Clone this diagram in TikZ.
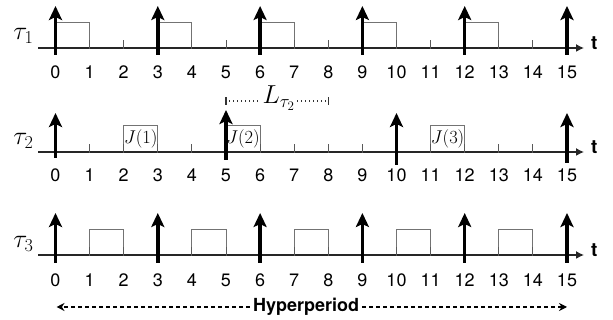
\RequirePackage{fix-cm}
\documentclass[tikz,border=0pt]{standalone}
\usepackage{fontspec}
\setsansfont{TeX Gyre Heros}
\usetikzlibrary{arrows.meta}
\tikzset{
  axisline/.style={line width=1.5pt, draw=black!85, -{Latex[length=8pt,width=8pt]}},
  release/.style={line width=3.4pt, draw=black, -{Stealth[length=14pt,width=13pt,inset=3pt]}},
  jobbox/.style={draw=black!55, line width=0.9pt},
  jobnode/.style={draw=black!55, line width=0.9pt, minimum width=34.1pt, minimum height=27pt, inner sep=0pt, font=\fontsize{18.5}{21}\selectfont},
  tickmark/.style={draw=black!65, line width=0.9pt},
  num/.style={font=\fontsize{18}{21}\sffamily, inner sep=0pt},
  tlabel/.style={font=\fontsize{19}{21}\sffamily\bfseries, inner sep=0pt},
  rowlabel/.style={font=\fontsize{26}{30}\selectfont, inner sep=0pt, anchor=south},
  Llabel/.style={font=\fontsize{26}{30}\selectfont, inner sep=2pt, anchor=base},
  dotline/.style={line width=1.1pt, dash pattern=on 1pt off 3pt, draw=black!80},
  endbar/.style={line width=1.2pt, draw=black!80},
  hyper/.style={font=\fontsize{18}{20}\sffamily\bfseries, inner sep=3pt},
  hyperarrow/.style={line width=1.1pt, dash pattern=on 4pt off 3pt, -{Stealth[length=8pt,width=8pt]}}
}
\begin{document}
\begin{tikzpicture}[x=1pt,y=1pt]
\useasboundingbox (0,0) rectangle (613,320);
\begin{scope}[xshift=55.5pt, x=34.1pt, y=1pt]
  % ---------- Row 1 ----------
  \foreach \k in {0,3,...,12} \draw[jobbox] (\k,272) rectangle (\k+1,298);
  \coordinate (a1s) at (-0.51,272);
  \coordinate (a1e) at (15.5,272);
  \draw[axisline] (a1s) -- (a1e);
  \foreach \k in {1,...,14} \draw[tickmark] (\k,271) -- (\k,280);
  \foreach \k in {0,3,...,15} {
    \coordinate (r1b\k) at (\k,265);
    \coordinate (r1t\k) at (\k,314);
    \draw[release] (r1b\k) -- (r1t\k);
  }
  \foreach \k in {0,...,15} \node[num] (n1-\k) at (\k,248) {\k};
  \node[tlabel] (t1) at (15.8,277) {t};
  \node[rowlabel] (tau1) at (-0.94,276) {$\tau_1$};

  % ---------- Row 2 ----------
  \node[jobnode] (j1) at (2.5,181.5) {$J(1)$};
  \node[jobnode] (j2) at (5.5,181.5) {$J(2)$};
  \node[jobnode] (j3) at (11.5,181.5) {$J(3)$};
  \coordinate (a2s) at (-0.51,168);
  \coordinate (a2e) at (15.5,168);
  \draw[axisline] (a2s) -- (a2e);
  \foreach \k in {1,...,14} \draw[tickmark] (\k,167) -- (\k,176);
  \coordinate (r2b0) at (0,162);   \coordinate (r2t0) at (0,207);
  \coordinate (r2b5) at (5,160);   \coordinate (r2t5) at (5,210);
  \coordinate (r2b10) at (10,155); \coordinate (r2t10) at (10,207);
  \coordinate (r2b15) at (15,157); \coordinate (r2t15) at (15,207);
  \foreach \k in {0,5,10,15} \draw[release] (r2b\k) -- (r2t\k);
  \foreach \k in {0,...,15} \node[num] (n2-\k) at (\k,145) {\k};
  \node[tlabel] (t2) at (15.8,173) {t};
  \node[rowlabel] (tau2) at (-0.94,171) {$\tau_2$};

  % L_tau2 bracket
  \coordinate (lb) at (5,219);
  \coordinate (le) at (8,219);
  \node[Llabel] (L) at (6.55,216) {$L_{\tau_2}$};
  \draw[endbar] ([yshift=-4pt]lb) -- ([yshift=4pt]lb);
  \draw[endbar] ([yshift=-4pt]le) -- ([yshift=4pt]le);
  \draw[dotline] ([xshift=3pt]lb) -- (L.west |- lb);
  \draw[dotline] (L.east |- le) -- ([xshift=-2pt]le);

  % ---------- Row 3 ----------
  \foreach \k in {1,4,...,13} \draw[jobbox] (\k,65) rectangle (\k+1,91);
  \coordinate (a3s) at (-0.51,65);
  \coordinate (a3e) at (15.5,65);
  \draw[axisline] (a3s) -- (a3e);
  \foreach \k in {1,...,14} \draw[tickmark] (\k,64) -- (\k,73);
  \foreach \k in {0,3,...,15} {
    \coordinate (r3b\k) at (\k,57);
    \coordinate (r3t\k) at (\k,107);
    \draw[release] (r3b\k) -- (r3t\k);
  }
  \foreach \k in {0,...,15} \node[num] (n3-\k) at (\k,40) {\k};
  \node[tlabel] (t3) at (15.8,70) {t};
  \node[rowlabel] (tau3) at (-0.94,68) {$\tau_3$};

  % ---------- Hyperperiod ----------
  \coordinate (h0) at (0.03,13);
  \coordinate (h15) at (15,13);
  \node[hyper] (hp) at (7.35,13) {Hyperperiod};
  \draw[hyperarrow] (hp.west) -- (h0);
  \draw[hyperarrow] (hp.east) -- (h15);
\end{scope}
\end{tikzpicture}
\end{document}
